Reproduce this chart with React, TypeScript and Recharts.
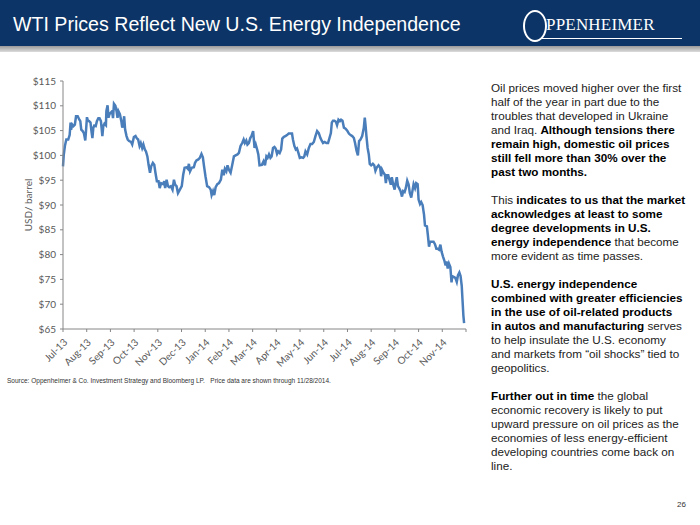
import { Line, LineChart, XAxis, YAxis } from "recharts";

// month positions: 0 = start of Jul-13, 17 = start of Dec-14
const monthLabels = [
  "Jul-13", "Aug-13", "Sep-13", "Oct-13", "Nov-13", "Dec-13", "Jan-14", "Feb-14", "Mar-14",
  "Apr-14", "May-14", "Jun-14", "Jul-14", "Aug-14", "Sep-14", "Oct-14", "Nov-14", "",
];
const monthTicks = [0, 1, 2, 3, 4, 5, 6, 7, 8, 9, 10, 11, 12, 13, 14, 15, 16, 17];
const priceTicks = [65, 70, 75, 80, 85, 90, 95, 100, 105, 110, 115];

const months = [
  0.0, 0.03, 0.08, 0.14, 0.22, 0.28, 0.32, 0.34, 0.39, 0.44, 0.5, 0.55, 0.62, 0.69, 0.73, 0.77,
  0.83, 0.88, 0.94, 0.97, 1.01, 1.05, 1.1, 1.16, 1.2, 1.24, 1.28, 1.32, 1.38, 1.43, 1.49, 1.54,
  1.6, 1.66, 1.7, 1.75, 1.81, 1.83, 1.88, 1.92, 1.96, 2.01, 2.07, 2.11, 2.15, 2.21, 2.26, 2.3,
  2.34, 2.4, 2.46, 2.5, 2.54, 2.58, 2.62, 2.68, 2.73, 2.79, 2.87, 2.92, 2.99, 3.06, 3.12, 3.17,
  3.23, 3.28, 3.34, 3.39, 3.45, 3.5, 3.56, 3.61, 3.67, 3.72, 3.79, 3.85, 3.9, 3.96, 4.03, 4.08,
  4.14, 4.23, 4.27, 4.31, 4.37, 4.43, 4.48, 4.55, 4.62, 4.68, 4.73, 4.79, 4.85, 4.93, 5.01, 5.07,
  5.13, 5.21, 5.27, 5.31, 5.36, 5.43, 5.52, 5.57, 5.63, 5.71, 5.77, 5.84, 5.9, 5.95, 6.01, 6.08,
  6.16, 6.23, 6.27, 6.33, 6.38, 6.44, 6.51, 6.58, 6.66, 6.72, 6.78, 6.83, 6.89, 6.94, 7.0, 7.07,
  7.14, 7.21, 7.28, 7.36, 7.42, 7.49, 7.56, 7.62, 7.67, 7.73, 7.78, 7.84, 7.9, 7.95, 8.02, 8.08,
  8.13, 8.19, 8.24, 8.29, 8.39, 8.46, 8.52, 8.58, 8.63, 8.69, 8.75, 8.8, 8.86, 8.92, 8.97, 9.03,
  9.08, 9.14, 9.2, 9.25, 9.31, 9.38, 9.45, 9.52, 9.59, 9.66, 9.7, 9.76, 9.82, 9.87, 9.93, 9.99,
  10.06, 10.13, 10.18, 10.23, 10.3, 10.37, 10.44, 10.51, 10.58, 10.65, 10.72, 10.79, 10.86, 10.92,
  10.97, 11.04, 11.11, 11.18, 11.24, 11.3, 11.34, 11.39, 11.45, 11.51, 11.56, 11.62, 11.68, 11.73,
  11.79, 11.85, 11.92, 11.99, 12.06, 12.13, 12.2, 12.27, 12.32, 12.38, 12.44, 12.49, 12.55, 12.62,
  12.69, 12.73, 12.76, 12.8, 12.85, 12.9, 12.94, 13.0, 13.07, 13.13, 13.18, 13.24, 13.31, 13.38,
  13.42, 13.46, 13.52, 13.58, 13.62, 13.66, 13.72, 13.77, 13.83, 13.87, 13.93, 13.99, 14.03, 14.08,
  14.13, 14.18, 14.24, 14.3, 14.35, 14.41, 14.46, 14.52, 14.58, 14.63, 14.69, 14.75, 14.79, 14.85,
  14.9, 14.96, 15.0, 15.06, 15.11, 15.17, 15.23, 15.27, 15.35, 15.39, 15.44, 15.48, 15.55, 15.63,
  15.69, 15.75, 15.8, 15.86, 15.92, 15.97, 16.03, 16.08, 16.14, 16.18, 16.23, 16.28, 16.34, 16.39,
  16.42, 16.48, 16.55, 16.61, 16.66, 16.72, 16.77, 16.82, 16.85, 16.89, 16.92,
];

const prices = [
  97.8, 100.0, 101.9, 103.2, 103.2, 104.1, 106.6, 105.2, 106.2, 105.9, 106.2, 107.9, 107.9, 107.2, 106.9, 105.2,
  104.9, 104.5, 103.0, 104.9, 107.7, 107.0, 106.9, 106.6, 104.9, 103.5, 105.6, 106.0, 105.9, 106.9, 107.5, 107.5,
  106.9, 103.9, 105.9, 106.4, 106.1, 108.9, 110.1, 107.6, 108.3, 108.6, 108.9, 107.5, 110.4, 110.0, 108.9, 107.6,
  108.9, 108.3, 106.9, 105.6, 106.2, 107.9, 105.2, 103.9, 103.2, 102.9, 102.7, 102.2, 103.7, 103.9, 103.4, 103.2,
  101.9, 102.5, 101.5, 102.2, 101.2, 100.8, 99.8, 98.1, 96.5, 97.8, 98.5, 98.1, 96.5, 94.8, 94.8, 93.4,
  94.4, 94.2, 94.8, 93.4, 95.1, 93.8, 93.6, 93.8, 93.1, 95.1, 94.1, 93.8, 92.4, 93.1, 93.8, 96.1,
  97.5, 97.6, 97.3, 98.3, 96.8, 97.5, 97.6, 98.5, 99.0, 99.2, 99.5, 100.3, 99.6, 97.8, 95.8, 93.8,
  93.6, 93.1, 92.0, 92.8, 92.0, 93.6, 94.2, 94.4, 95.1, 97.1, 96.0, 97.3, 96.8, 98.0, 97.1, 96.5,
  98.1, 99.8, 100.0, 100.2, 100.5, 101.9, 102.5, 103.2, 102.5, 103.0, 102.2, 102.5, 103.5, 103.9, 104.9, 101.5,
  102.2, 101.2, 100.2, 98.0, 98.1, 98.8, 98.0, 99.8, 99.5, 100.2, 99.5, 99.8, 101.5, 101.7, 101.4, 100.3,
  100.8, 100.5, 101.2, 103.4, 103.7, 103.9, 104.1, 104.4, 104.4, 104.4, 103.2, 101.9, 101.2, 101.4, 100.5, 99.5,
  99.6, 99.5, 99.8, 100.8, 100.2, 101.5, 102.3, 102.3, 102.7, 103.9, 104.9, 104.5, 103.5, 102.9,
  102.5, 102.7, 102.5, 102.5, 103.5, 104.5, 106.6, 107.0, 107.0, 106.8, 106.1, 107.2, 106.9, 107.2,
  107.0, 105.6, 105.4, 105.0, 104.4, 104.1, 103.9, 103.5, 102.5, 101.0, 100.0, 102.9, 103.2, 103.9,
  105.6, 107.6, 106.2, 103.9, 101.5, 100.2, 98.3, 98.0, 98.3, 98.0, 96.9, 97.6, 98.0, 97.5,
  95.8, 97.1, 96.5, 96.1, 94.4, 96.0, 96.0, 95.1, 94.1, 95.6, 94.1, 93.1, 94.4, 95.6,
  93.8, 93.4, 92.8, 91.7, 92.8, 92.6, 93.4, 94.9, 94.1, 92.4, 91.5, 93.1, 94.2, 93.4,
  94.4, 94.2, 91.1, 90.2, 90.6, 90.0, 88.0, 85.9, 85.7, 84.0, 81.6, 82.6, 82.6, 82.6,
  82.1, 81.2, 81.2, 81.0, 82.0, 80.6, 79.6, 78.9, 77.8, 78.6, 77.2, 78.2, 77.5, 74.4,
  75.7, 75.5, 75.3, 74.5, 75.8, 76.4, 75.7, 73.7, 71.1, 67.7, 66.2,
];

const data = months.map((m, i) => ({ m, price: prices[i] }));

type Run = { text: string; bold?: boolean };

const paragraphs: Run[][][] = [
  [
    [{ text: "Oil prices moved higher over the first" }],
    [{ text: "half of the year in part due to the" }],
    [{ text: "troubles that developed in Ukraine" }],
    [{ text: "and Iraq. " }, { text: "Although tensions there", bold: true }],
    [{ text: "remain high, domestic oil prices", bold: true }],
    [{ text: "still fell more than 30% over the", bold: true }],
    [{ text: "past two months.", bold: true }],
  ],
  [
    [{ text: "This " }, { text: "indicates to us that the market", bold: true }],
    [{ text: "acknowledges at least to some", bold: true }],
    [{ text: "degree developments in U.S.", bold: true }],
    [{ text: "energy independence", bold: true }, { text: " that become" }],
    [{ text: "more evident as time passes." }],
  ],
  [
    [{ text: "U.S. energy independence", bold: true }],
    [{ text: "combined with greater efficiencies", bold: true }],
    [{ text: "in the use of oil-related products", bold: true }],
    [{ text: "in autos and manufacturing", bold: true }, { text: " serves" }],
    [{ text: "to help insulate the U.S. economy" }],
    [{ text: "and markets from \u201coil shocks\u201d tied to" }],
    [{ text: "geopolitics." }],
  ],
  [
    [{ text: "Further out in time", bold: true }, { text: " the global" }],
    [{ text: "economic recovery is likely to put" }],
    [{ text: "upward pressure on oil prices as the" }],
    [{ text: "economies of less energy-efficient" }],
    [{ text: "developing countries come back on" }],
    [{ text: "line." }],
  ],
];

const axisGray = "#868686";
const tickText = { fill: "#595959", fontSize: 10 };

function Header() {
  return (
    <>
      <div style={{ position: "absolute", left: 0, top: 0, width: 700, height: 46, background: "#0c3466" }} />
      <div
        style={{
          position: "absolute",
          left: 0,
          top: 46,
          width: 700,
          height: 6,
          background: "linear-gradient(#9a9a9a, #dcdcdc)",
        }}
      />
      <div
        style={{
          position: "absolute",
          left: 13,
          top: 13,
          color: "#ffffff",
          fontFamily: "'Liberation Sans', Arial, sans-serif",
          fontSize: 19.6,
          whiteSpace: "nowrap",
        }}
      >
        WTI Prices Reflect New U.S. Energy Independence
      </div>
      {/* logo */}
      <div
        style={{
          position: "absolute",
          left: 523,
          top: 10,
          width: 20,
          height: 28,
          border: "2px solid #ffffff",
          borderRadius: "50%",
        }}
      />
      <div
        style={{
          position: "absolute",
          left: 546,
          top: 15,
          color: "#ffffff",
          fontFamily: "'Liberation Serif', serif",
          fontSize: 17,
          letterSpacing: 0.2,
          whiteSpace: "nowrap",
        }}
      >
        PPENHEIMER
      </div>
      <div style={{ position: "absolute", left: 541, top: 38, width: 141, height: 1, background: "#ffffff" }} />
    </>
  );
}

function Commentary() {
  return (
    <div
      style={{
        position: "absolute",
        left: 491,
        top: 81,
        fontFamily: "'Liberation Sans', Arial, sans-serif",
        fontSize: 11.7,
        lineHeight: "14px",
        color: "#222222",
      }}
    >
      {paragraphs.map((lines, p) => (
        <div key={p} style={{ marginBottom: 14 }}>
          {lines.map((runs, l) => (
            <div key={l} style={{ whiteSpace: "nowrap" }}>
              {runs.map((r, k) => (
                <span key={k} style={r.bold ? { fontWeight: 700, color: "#000000" } : undefined}>
                  {r.text}
                </span>
              ))}
            </div>
          ))}
        </div>
      ))}
    </div>
  );
}

function PriceChart() {
  return (
    <div style={{ position: "absolute", left: 0, top: 0, fontFamily: "Lato, sans-serif" }}>
      <LineChart width={480} height={380} data={data} margin={{ top: 81, right: 14, bottom: 11, left: 0 }}>
        <XAxis
          type="number"
          dataKey="m"
          domain={[0, 17]}
          ticks={monthTicks}
          interval={0}
          height={40}
          tickFormatter={(v: number) => monthLabels[v] ?? ""}
          tick={{ ...tickText, angle: -45, textAnchor: "end" }}
          tickSize={3}
          tickMargin={6}
          axisLine={{ stroke: axisGray }}
          tickLine={{ stroke: axisGray }}
        />
        <YAxis
          type="number"
          domain={[65, 115]}
          ticks={priceTicks}
          interval={0}
          width={63}
          tickFormatter={(v: number) => `$${v}`}
          tick={tickText}
          tickSize={3}
          tickMargin={4}
          axisLine={{ stroke: axisGray }}
          tickLine={{ stroke: axisGray }}
          label={{
            value: "USD/ barrel",
            angle: -90,
            position: "insideLeft",
            offset: 28,
            style: { textAnchor: "middle", fill: "#595959", fontSize: 10 },
          }}
        />
        <Line
          dataKey="price"
          type="linear"
          stroke="#4a7ebb"
          strokeWidth={2.5}
          dot={false}
          isAnimationActive={false}
        />
      </LineChart>
    </div>
  );
}

export default function App() {
  return (
    <div style={{ position: "fixed", left: 0, top: 0, width: 700, height: 525, background: "#ffffff", overflow: "hidden" }}>
      <Header />
      <PriceChart />
      <Commentary />
      <div
        style={{
          position: "absolute",
          left: 7,
          top: 377,
          fontFamily: "'Liberation Sans', Arial, sans-serif",
          fontSize: 6.5,
          color: "#333333",
          whiteSpace: "pre",
        }}
      >
        Source: Oppenheimer &amp; Co. Investment Strategy and Bloomberg LP.   Price data are shown through 11/28/2014.
      </div>
      <div
        style={{
          position: "absolute",
          left: 677,
          top: 500,
          fontFamily: "'Liberation Sans', Arial, sans-serif",
          fontSize: 8,
          color: "#333333",
        }}
      >
        26
      </div>
    </div>
  );
}
